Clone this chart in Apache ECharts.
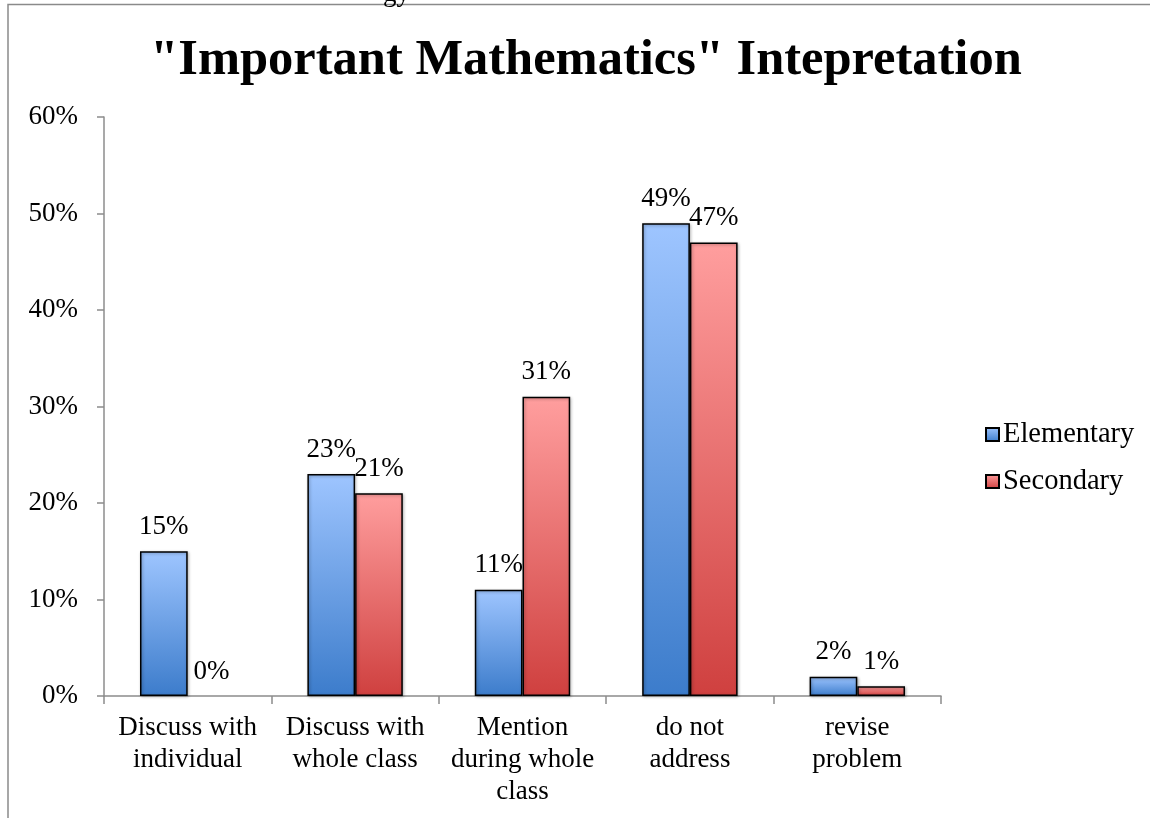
<!DOCTYPE html>
<html>
<head>
<meta charset="utf-8">
<title>"Important Mathematics" Intepretation</title>
<script src="https://cdn.jsdelivr.net/npm/echarts@6/dist/echarts.min.js"></script>
<style>
  html, body { margin: 0; padding: 0; background: #fff; }
  #chart { width: 1150px; height: 818px; }
</style>
</head>
<body>
<div id="chart"></div>
<script>
// Response categories and the share of each group (percent)
const categories = [
  'Discuss with\nindividual',
  'Discuss with\nwhole class',
  'Mention\nduring whole\nclass',
  'do not\naddress',
  'revise\nproblem'
];
const elementary = [15, 23, 11, 49, 2];
const secondary = [0, 21, 31, 47, 1];
const yTicks = [0, 10, 20, 30, 40, 50, 60];

const FONT = '"Liberation Serif", "Times New Roman", serif';

function grad(top, bottom) {
  return new echarts.graphic.LinearGradient(0, 0, 0, 1, [
    { offset: 0, color: top },
    { offset: 1, color: bottom }
  ]);
}

// zero-height bars get no outline so nothing is drawn on the axis
function toItems(values) {
  return values.map(v => ({ value: v, itemStyle: v === 0 ? { borderWidth: 0, shadowBlur: 0, shadowOffsetX: 0, shadowOffsetY: 0 } : {} }));
}

const labelStyle = {
  show: true,
  position: 'top',
  distance: 11,
  formatter: p => p.value + '%',
  fontFamily: FONT,
  fontSize: 27,
  color: '#000'
};

const barBase = {
  borderColor: '#000',
  borderWidth: 1.5,
  shadowColor: 'rgba(0,0,0,0.3)',
  shadowBlur: 3,
  shadowOffsetX: 1,
  shadowOffsetY: 1
};

const chart = echarts.init(document.getElementById('chart'), null, { renderer: 'canvas' });

chart.setOption({
  animation: false,
  backgroundColor: '#fff',
  title: {
    text: '"Important Mathematics" Intepretation',
    left: 581,
    top: 30,
    textAlign: 'center',
    textStyle: { fontFamily: FONT, fontWeight: 'bold', fontSize: 50.5, color: '#000' }
  },
  graphic: [
    {
      type: 'polyline',
      shape: { points: [[8, 830], [8, 4.5], [1160, 4.5]] },
      style: { stroke: '#8a8a8a', lineWidth: 1.5, fill: null },
      silent: true
    },
    {
      type: 'text',
      left: 383,
      top: -20,
      style: { text: 'gy', fontFamily: FONT, fontSize: 27, fill: '#000' },
      silent: true
    }
  ],
  legend: {
    orient: 'vertical',
    left: 980,
    top: 415,
    itemWidth: 13,
    itemHeight: 13,
    itemGap: 18,
    icon: 'rect',
    textStyle: { fontFamily: FONT, fontSize: 28.5, color: '#000', padding: [0, 0, 0, -1] },
    data: ['Elementary', 'Secondary']
  },
  grid: { left: 104, right: 209, top: 117, bottom: 122, containLabel: false },
  xAxis: {
    type: 'category',
    data: categories,
    axisLine: { show: true, lineStyle: { color: '#8c8c8c', width: 1.5 } },
    axisTick: { show: true, length: 8, lineStyle: { color: '#8c8c8c', width: 1.5 } },
    axisLabel: {
      margin: 16,
      interval: 0,
      fontFamily: FONT,
      fontSize: 27,
      lineHeight: 32,
      color: '#000'
    }
  },
  yAxis: {
    type: 'value',
    min: 0,
    max: 60,
    interval: 10,
    axisLine: { show: true, lineStyle: { color: '#8c8c8c', width: 1.5 } },
    axisTick: { show: true, length: 7, lineStyle: { color: '#8c8c8c', width: 1.5 } },
    splitLine: { show: false },
    axisLabel: {
      margin: 26,
      fontFamily: FONT,
      fontSize: 27,
      color: '#000',
      formatter: v => (yTicks.includes(v) ? v + '%' : '')
    }
  },
  series: [
    {
      name: 'Elementary',
      type: 'bar',
      data: toItems(elementary),
      barGap: '0%',
      barCategoryGap: '43%',
      itemStyle: Object.assign({ color: grad('#9ec5ff', '#3c7ccb') }, barBase),
      label: labelStyle
    },
    {
      name: 'Secondary',
      type: 'bar',
      data: toItems(secondary),
      itemStyle: Object.assign({ color: grad('#ff9e9e', '#cf403f') }, barBase),
      label: labelStyle
    }
  ]
});
</script>
</body>
</html>
